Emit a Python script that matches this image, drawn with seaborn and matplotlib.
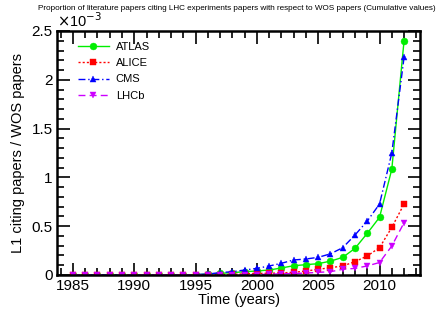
import matplotlib
matplotlib.use("Agg")
import matplotlib.pyplot as plt
import numpy as np
import pandas as pd
import seaborn as sns
from matplotlib.ticker import MultipleLocator, FuncFormatter

years = list(range(1985, 2013))
# values in units of 1e-3
atlas = [0, 0, 0, 0, 0, 0, 0, 0, 0, 0, 0.003, 0.010, 0.017, 0.024, 0.034, 0.041,
         0.051, 0.072, 0.095, 0.106, 0.116, 0.142, 0.181, 0.273, 0.427, 0.591, 1.083, 2.40]
alice = [0, 0, 0, 0, 0, 0, 0, 0, 0, 0, 0, 0.002, 0.004, 0.006, 0.012, 0.017,
         0.017, 0.022, 0.027, 0.041, 0.058, 0.075, 0.092, 0.137, 0.195, 0.280, 0.488, 0.727]
cms = [0, 0, 0, 0, 0, 0, 0, 0, 0, 0, 0.004, 0.010, 0.024, 0.034, 0.051, 0.068,
       0.092, 0.120, 0.154, 0.164, 0.181, 0.217, 0.280, 0.410, 0.553, 0.727, 1.250, 2.23]
lhcb = [0, 0, 0, 0, 0, 0, 0, 0, 0, 0, 0, 0.001, 0.002, 0.003, 0.004, 0.005,
        0.008, 0.012, 0.015, 0.020, 0.027, 0.034, 0.058, 0.068, 0.093, 0.128, 0.297, 0.536]

series = ["ATLAS", "ALICE", "CMS", "LHCb"]
colors = ["#00ee00", "#ff0000", "#0000ff", "#cc00ff"]
markers = ["o", "s", "^", "v"]
styles = ["-", (0, (1.5, 1.5)), (0, (5, 2, 1, 2)), (0, (5, 3))]

df = pd.DataFrame({"year": years, "ATLAS": atlas, "ALICE": alice, "CMS": cms, "LHCb": lhcb})
df = df.melt(id_vars="year", var_name="exp", value_name="ratio")
df["ratio"] = df["ratio"] * 1e-3

plt.rcParams["font.family"] = ["Liberation Sans", "DejaVu Sans"]

fig = plt.figure(figsize=(4.45, 3.14), dpi=100)
ax = fig.add_axes([57 / 445, 1 - 275 / 314, 363 / 445, 244 / 314])

for name, c, m, ls in zip(series, colors, markers, styles):
    sub = df[df["exp"] == name]
    sns.lineplot(data=sub, x="year", y="ratio", ax=ax, color=c, marker=m,
                 linestyle=ls, linewidth=1.0, markersize=5,
                 markeredgecolor=c, markeredgewidth=0.3, label=name)

ax.set_xlim(1983.7, 2013.3)
ax.set_ylim(0, 2.5e-3)
ax.xaxis.set_major_locator(MultipleLocator(5))
ax.xaxis.set_minor_locator(MultipleLocator(1))
ax.yaxis.set_major_locator(MultipleLocator(0.5e-3))
ax.yaxis.set_minor_locator(MultipleLocator(0.1e-3))
ax.yaxis.set_major_formatter(FuncFormatter(lambda v, p: "%g" % round(v * 1e3, 3)))
for s in ax.spines.values():
    s.set_linewidth(1.8)

ax.set_xlabel("Time (years)", fontsize=10.5, labelpad=0)
ax.set_ylabel("L1 citing papers / WOS papers", fontsize=10.5, labelpad=5)
ax.text(0.0, 1.005, r"$\times$10$^{-3}$", transform=ax.transAxes, fontsize=10.5,
        ha="left", va="bottom")
fig.text(0.532, 0.985, "Proportion of literature papers citing LHC experiments papers with respect to WOS papers (Cumulative values)",
         fontsize=5.85, ha="center", va="top")

leg = ax.legend(loc="upper left", frameon=False, fontsize=8, handlelength=2.8,
                handletextpad=0.6, bbox_to_anchor=(0.03, 0.995), labelspacing=0.55)

ax.tick_params(which="both", direction="in", top=True, right=True, bottom=True,
               left=True, color="black", labelsize=11, pad=3)
ax.tick_params(which="major", length=9, width=1.2)
ax.tick_params(which="minor", length=5, width=1.2)

fig.savefig("out.png", dpi=100)
